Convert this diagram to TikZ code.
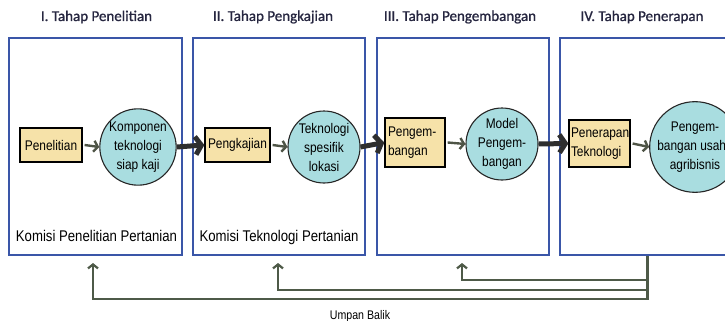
\documentclass[tikz,border=0pt]{standalone}
\usepackage{fontspec}
\setmainfont{Liberation Sans}[FakeStretch=0.85]
\newfontfamily\titlefont{Carlito}[FakeBold=1]
\usepackage{xcolor}
\usetikzlibrary{calc, shapes, arrows.meta}
\definecolor{boxblue}{HTML}{3A56A8}
\definecolor{rectfill}{HTML}{F6E2A9}
\definecolor{circfill}{HTML}{A9DDE0}
\definecolor{titlecol}{HTML}{262640}
\definecolor{fbcol}{HTML}{4E5A48}
\definecolor{bigarrow}{HTML}{2E2E2E}
\definecolor{smallarrow}{HTML}{4E5446}

\begin{document}
\begin{tikzpicture}[x=1pt,y=-1pt,
	phasebox/.style={draw=boxblue,line width=2.2pt,minimum height=217pt},
	stepbox/.style={draw=black,fill=rectfill,line width=1.2pt,inner sep=2pt,font=\fontsize{14}{19}\selectfont},
	resultcirc/.style={circle,draw=black!85,fill=circfill,line width=1.1pt,inner sep=0pt,align=center,font=\fontsize{14}{19}\selectfont},
	bigstep/.style={bigarrow,line width=5pt,-{Straight Barb[length=6pt,width=18pt]}},
	smallstep/.style={smallarrow,line width=2.4pt,-{Straight Barb[length=4pt,width=11pt]}},
	feedback/.style={fbcol,line width=2.2pt,-{Straight Barb[length=4pt,width=10pt]}}]
				\newcommand{\mytitlefont}[1]{
					\titlefont\fontsize{15}{18}\selectfont{#1}
				}\newcommand{\mykomisifont}[1]{
					\fontsize{15.5}{18}\selectfont{#1}
				}%Page frame
				\useasboundingbox (0,0) rectangle (725,321);
				%Titles of the four stages
				\coordinate (title1) at (96.5,17);
				\coordinate (title2) at (273,17);
				\coordinate (title3) at (460,17);
				\coordinate (title4) at (642,17);
				\node [text=titlecol] (t1) at (title1) {\mytitlefont{I. Tahap Penelitian}};
				\node [text=titlecol] (t2) at (title2) {\mytitlefont{II. Tahap Pengkajian}};
				\node [text=titlecol] (t3) at (title3) {\mytitlefont{III. Tahap Pengembangan}};
				\node [text=titlecol] (t4) at (title4) {\mytitlefont{IV. Tahap Penerapan}};
				%Blue frames of the stages
				\coordinate (center1) at (95.5,146.5);
				\coordinate (center2) at (279,146.5);
				\coordinate (center3) at (463,146.5);
				\coordinate (center4) at (647.5,146.5);
				\node [phasebox,minimum width=173pt] (box1) at (center1) {};
				\node [phasebox,minimum width=172pt] (box2) at (center2) {};
				\node [phasebox,minimum width=172pt] (box3) at (center3) {};
				\node [phasebox,minimum width=175pt] (box4) at (center4) {};
				%Commissions
				\node [] (kom1) at (96.5,236) {\mykomisifont{Komisi Penelitian Pertanian}};
				\node [] (kom2) at (279,237) {\mykomisifont{Komisi Teknologi Pertanian}};
				%Activities
				\coordinate (act1) at (51,145);
				\coordinate (act2) at (237.5,145);
				\coordinate (act3) at (415,142.5);
				\coordinate (act4) at (599.5,143.5);
				\node [stepbox,minimum width=62pt,minimum height=34pt] (r1) at (act1) {Penelitian};
				\node [stepbox,minimum width=65pt,minimum height=34pt] (r2) at (act2) {Pengkajian};
				\node [stepbox,minimum width=60pt,minimum height=49pt,align=left,text width=54pt] (r3) at (act3) {Pengem-\\bangan};
				\node [stepbox,minimum width=61pt,minimum height=47pt,align=left,text width=57pt] (r4) at (act4) {Penerapan\\Teknologi};
				%Results
				\coordinate (res1) at (138,147);
				\coordinate (res2) at (324,147);
				\coordinate (res3) at (502,144);
				\coordinate (res4) at (695,147);
				\node [resultcirc,minimum size=74pt] (c1) at (res1) {Komponen\\teknologi\\siap kaji};
				\node [resultcirc,minimum size=72pt] (c2) at (res2) {Teknologi\\spesifik\\lokasi};
				\node [resultcirc,minimum size=72pt] (c3) at (res3) {Model\\Pengem-\\bangan};
				\node [resultcirc,minimum size=80pt] (c4) at (res4) {Pengem-\\bangan usaha\\agribisnis};
				%Arrows inside the stages
				\draw [smallstep] ($(r1.east)+(2,0)$) -- (c1.west);
				\draw [smallstep] ($(r2.east)+(2,0)$) -- (c2.west);
				\draw [smallstep] ($(r3.east)+(2,0)$) -- (c3.west);
				\draw [smallstep] ($(r4.east)+(2,0)$) -- (c4.west);
				%Arrows between the stages
				\draw [bigstep] (c1.east) -- (r2.west);
				\draw [bigstep] (c2.east) -- (r3.west);
				\draw [bigstep] (c3.east) -- (r4.west);
				%Feedback
				\coordinate (fb1) at (93,263);
				\coordinate (fb2) at (278,263);
				\coordinate (fb3) at (462,263);
				\draw [feedback] (box4.south) -- ++(0,43) -| (fb1);
				\draw [feedback] (box4.south) -- ++(0,34) -| (fb2);
				\draw [feedback] (box4.south) -- ++(0,24) -| (fb3);
				\node [] (umpan) at (360,316) {\fontsize{12.5}{15}\selectfont Umpan Balik};
				\end{tikzpicture}
\end{document}
